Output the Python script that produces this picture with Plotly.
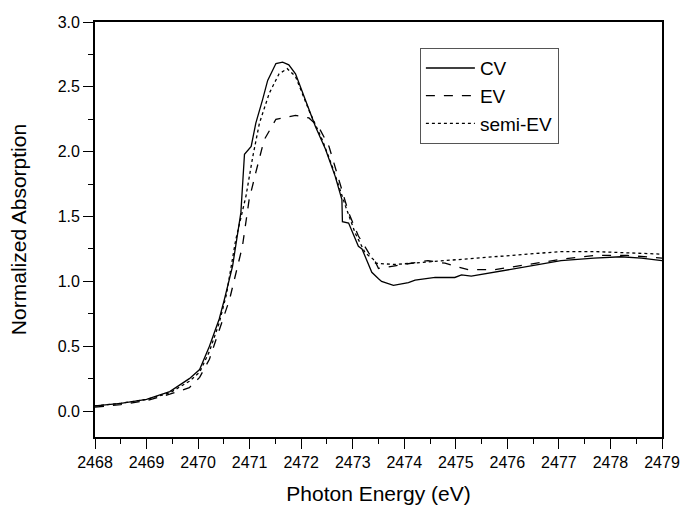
import plotly.graph_objects as go

# CV (solid)
cv_e = [2468.0, 2468.5, 2469.0, 2469.45, 2469.83, 2470.03, 2470.22, 2470.41, 2470.51, 2470.67,
        2470.83, 2470.90, 2471.03, 2471.12, 2471.25, 2471.35, 2471.51, 2471.64, 2471.76, 2471.89,
        2472.08, 2472.28, 2472.47, 2472.66, 2472.79, 2472.80, 2472.92, 2473.11, 2473.18, 2473.31,
        2473.37, 2473.50, 2473.56, 2473.79, 2474.08, 2474.21, 2474.60, 2474.98, 2475.11, 2475.30,
        2475.88, 2476.40, 2477.04, 2477.68, 2478.20, 2478.60, 2479.0]
cv_v = [0.04, 0.06, 0.09, 0.15, 0.25, 0.32, 0.50, 0.71, 0.86, 1.12,
        1.53, 1.98, 2.04, 2.22, 2.40, 2.55, 2.68, 2.69, 2.67, 2.60,
        2.40, 2.19, 2.02, 1.81, 1.63, 1.46, 1.45, 1.27, 1.25, 1.12,
        1.07, 1.02, 1.00, 0.97, 0.99, 1.01, 1.03, 1.03, 1.05, 1.04,
        1.08, 1.12, 1.16, 1.18, 1.19, 1.18, 1.16]

# EV (dashed)
ev_e = [2468.0, 2468.5, 2469.0, 2469.45, 2469.83, 2470.03, 2470.22, 2470.41, 2470.61, 2470.86,
        2470.99, 2471.12, 2471.28, 2471.51, 2471.89, 2472.15, 2472.34, 2472.54, 2472.73, 2472.92,
        2473.11, 2473.31, 2473.44, 2473.50, 2473.82, 2474.46, 2474.79, 2475.24, 2475.75, 2476.40,
        2477.04, 2477.68, 2478.33, 2479.0]
ev_v = [0.03, 0.05, 0.08, 0.13, 0.18, 0.26, 0.40, 0.63, 0.86, 1.27,
        1.63, 1.84, 2.09, 2.25, 2.28, 2.26, 2.19, 2.04, 1.78, 1.53,
        1.35, 1.22, 1.15, 1.10, 1.12, 1.16, 1.14, 1.09, 1.09, 1.13,
        1.17, 1.20, 1.20, 1.18]

# semi-EV (dotted)
sev_e = [2468.0, 2468.5, 2469.0, 2469.45, 2469.83, 2470.03, 2470.22, 2470.41, 2470.55, 2470.73,
         2470.93, 2471.06, 2471.19, 2471.38, 2471.57, 2471.73, 2471.89, 2472.15, 2472.41, 2472.60,
         2472.86, 2473.05, 2473.24, 2473.40, 2473.44, 2473.82, 2474.46, 2475.11, 2475.75, 2476.40,
         2477.04, 2477.68, 2478.33, 2479.0]
sev_v = [0.04, 0.06, 0.09, 0.14, 0.23, 0.30, 0.46, 0.68, 0.90, 1.32,
         1.66, 1.96, 2.22, 2.45, 2.60, 2.64, 2.58, 2.32, 2.09, 1.89,
         1.58, 1.37, 1.22, 1.17, 1.14, 1.13, 1.15, 1.17, 1.19, 1.21,
         1.23, 1.23, 1.22, 1.21]

series = [("CV", cv_e, cv_v, "solid"), ("EV", ev_e, ev_v, "dash"), ("semi-EV", sev_e, sev_v, "dot")]

fig = go.Figure()
for name, e, v, dash in series:
    fig.add_trace(go.Scatter(x=e, y=v, mode="lines", name=name,
                             line=dict(color="black", width=1.3, dash=dash)))

FONT = "Liberation Sans, Arial, sans-serif"
axis_common = dict(showline=True, linecolor="black", linewidth=1.8, mirror=True,
                   ticks="outside", tickcolor="black", tickwidth=1.3, ticklen=10,
                   showgrid=False, zeroline=False, automargin=False,
                   tickfont=dict(family=FONT, size=16, color="black"))

fig.update_layout(
    width=680, height=505,
    paper_bgcolor="white", plot_bgcolor="white",
    margin=dict(l=95, r=18, t=22, b=68),
    font=dict(family=FONT, color="black"),
    xaxis=dict(range=[2468, 2479], dtick=1, tick0=2468,
               minor=dict(ticks="outside", ticklen=5, dtick=0.5, tickcolor="black", tickwidth=1.3),
               title=dict(text="Photon Energy (eV)", font=dict(size=21), standoff=16),
               **axis_common),
    yaxis=dict(range=[-0.2, 3.0], dtick=0.5, tick0=0, tickformat=".1f",
               minor=dict(ticks="outside", ticklen=5, dtick=0.25, tickcolor="black", tickwidth=1.3),
               title=dict(text="Normalized Absorption", font=dict(size=21), standoff=25),
               **axis_common),
    legend=dict(x=0.573, y=0.937, xanchor="left", yanchor="top",
                bordercolor="#555555", borderwidth=1, bgcolor="white",
                font=dict(size=19, color="black"), tracegroupgap=0, itemwidth=49),
    showlegend=True,
)

fig.write_html("out.html", config={"displayModeBar": False},
               post_script="document.body.style.margin='0';document.body.style.overflow='hidden';")
